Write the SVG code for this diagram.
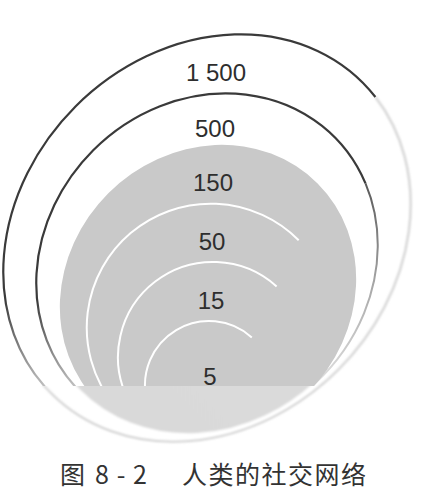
<svg xmlns="http://www.w3.org/2000/svg" width="425" height="502" viewBox="0 0 425 502">
  <defs>
    <style>
      .lbl { font-family: "Liberation Sans", Arial, sans-serif; font-size: 24px; fill: #2e2e2e; text-anchor: middle; }
      .cap { font-family: "Noto Sans CJK SC", "Liberation Sans", sans-serif; font-size: 25px; fill: #333333; }
      .dark { fill: none; stroke: url(#darkFade); stroke-width: 2.2; }
      .faint { fill: none; stroke: #d6d6d6; stroke-width: 2.4; filter: url(#soft); }
      .warc { fill: none; stroke: #ffffff; stroke-width: 2; }
    </style>
    <linearGradient id="darkFade" gradientUnits="userSpaceOnUse" x1="0" y1="300" x2="0" y2="390">
      <stop offset="0" stop-color="#3a3a3a"/>
      <stop offset="1" stop-color="#c4c4c4"/>
    </linearGradient>
    <linearGradient id="sideFade" gradientUnits="userSpaceOnUse" x1="0" y1="185" x2="0" y2="390">
      <stop offset="0" stop-color="#5a5a5a"/>
      <stop offset="0.5" stop-color="#a8a8a8"/>
      <stop offset="1" stop-color="#e4e4e4"/>
    </linearGradient>
    <linearGradient id="lensGrad" gradientUnits="userSpaceOnUse" x1="70" y1="0" x2="380" y2="0">
      <stop offset="0" stop-color="#d9d9d9"/>
      <stop offset="0.6" stop-color="#dbdbdb"/>
      <stop offset="0.85" stop-color="#e9e9e9"/>
      <stop offset="1" stop-color="#f4f4f4"/>
    </linearGradient>
    <clipPath id="upper"><rect x="0" y="0" width="425" height="386"/></clipPath>
    <clipPath id="lower"><rect x="0" y="386" width="425" height="80"/></clipPath>
    <filter id="soft" x="-10%" y="-10%" width="120%" height="120%"><feGaussianBlur stdDeviation="0.8"/></filter>
    <filter id="blurBand" x="-10%" y="-10%" width="120%" height="130%"><feGaussianBlur stdDeviation="1.2"/></filter>
  </defs>

  <rect x="0" y="0" width="425" height="502" fill="#ffffff"/>

  <g id="ring-1500">
    <g clip-path="url(#upper)">
      <path class="faint" d="M375.4,97 A220,186 -45 0 1 338.5,369.5 A220,186 -45 0 1 51.4,393.6"/>
      <path class="dark" d="M375.4,97 A220,186 -45 0 0 75.5,106.5 A220,186 -45 0 0 51.4,393.6"/>
    </g>
    <text class="lbl" x="216" y="81">1 500</text>
  </g>

  <g id="ring-500">
    <g clip-path="url(#upper)">
      <path fill="none" stroke="url(#sideFade)" stroke-width="2" d="M365.5,183.4 A180,161 -45 0 1 364,313.4 A180,161 -45 0 1 241.9,426.2"/>
      <path class="dark" d="M365.5,183.4 A180,161 -45 0 0 93.2,150.2 A180,161 -45 0 0 79.7,391.3"/>
    </g>
    <text class="lbl" x="215" y="137">500</text>
  </g>

  <g id="circle-150">
    <g clip-path="url(#upper)">
      <ellipse cx="208" cy="293" rx="155" ry="141" transform="rotate(-45 208 293)" fill="#c9c9c9"/>
    </g>
    <text class="lbl" x="213" y="191">150</text>
  </g>

  <g id="arc-50">
    <path class="warc" clip-path="url(#upper)" d="M298.7,240.3 A124,124 0 0 0 110,400"/>
    <text class="lbl" x="212" y="250">50</text>
  </g>

  <g id="arc-15">
    <path class="warc" clip-path="url(#upper)" d="M276.6,286.4 A95,95 0 0 0 128.3,400"/>
    <text class="lbl" x="211" y="309">15</text>
  </g>

  <g id="arc-5">
    <path class="warc" clip-path="url(#upper)" d="M251.8,337.4 A64,64 0 0 0 146.8,400"/>
    <text class="lbl" x="210" y="385">5</text>
  </g>

  <g id="band" clip-path="url(#lower)">
    <g filter="url(#blurBand)">
      <ellipse cx="207" cy="238" rx="220" ry="186" transform="rotate(-45 207 238)" fill="none" stroke="#d2d2d2" stroke-width="2"/>
      <ellipse cx="207" cy="264" rx="180" ry="161" transform="rotate(-45 207 264)" fill="url(#lensGrad)" stroke="#ffffff" stroke-width="3"/>
    </g>
  </g>

  <g id="caption">
    <text class="cap" y="484"><tspan x="60">图</tspan><tspan x="95" textLength="52" lengthAdjust="spacing">8-2</tspan><tspan x="182" textLength="184" lengthAdjust="spacing">人类的社交网络</tspan></text>
  </g>
</svg>
